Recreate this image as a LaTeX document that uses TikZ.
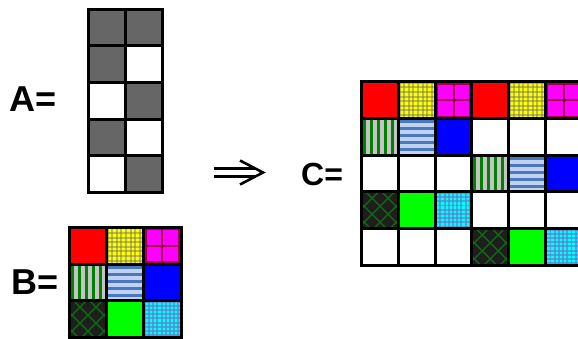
\documentclass[tikz,border=0pt]{standalone}
\usepackage{fontspec}
\setmainfont{Liberation Sans}
\definecolor{agray}{HTML}{666666}
\definecolor{chkgray}{HTML}{707070}
\definecolor{magline}{HTML}{A0004A}
\definecolor{stgreen}{HTML}{008000}
\definecolor{stgray}{HTML}{C4C4C4}
\definecolor{hlblue}{HTML}{C0D2EE}
\definecolor{hdblue}{HTML}{4A78C0}
\definecolor{dkbg}{HTML}{1E1E1E}
\definecolor{dkgreen}{HTML}{0E6A0E}
\definecolor{cyanchk}{HTML}{6478C8}
\definecolor{pred}{RGB}{255,0,0}
\definecolor{pgreen}{RGB}{0,255,0}
\definecolor{pblue}{RGB}{0,0,255}
\definecolor{pyellow}{RGB}{255,255,0}
\definecolor{pcyan}{RGB}{0,255,255}
\definecolor{pmagenta}{RGB}{255,0,255}
\newcommand\patR[4]{\fill[pred] (#1,#2) rectangle ++(#3,#4);}
\newcommand\patG[4]{\fill[pgreen] (#1,#2) rectangle ++(#3,#4);}
\newcommand\patB[4]{\fill[pblue] (#1,#2) rectangle ++(#3,#4);}
\newcommand\patW[4]{\fill[white] (#1,#2) rectangle ++(#3,#4);}
\newcommand\patK[4]{\fill[agray] (#1,#2) rectangle ++(#3,#4);}
% gingham: #5 background, #6 band colour, #7 period, #8 opacity
\newcommand\ging[8]{\fill[#5] (#1,#2) rectangle ++(#3,#4);
  \foreach \i in {0,...,10}{
    \fill[#6,opacity=#8] ({#1+\i*#7},#2) rectangle ++({#7/2.2},#4);
    \fill[#6,opacity=#8] (#1,{#2+\i*#7}) rectangle ++(#3,{#7/2.2});}}
\newcommand\patY[4]{\ging{#1}{#2}{#3}{#4}{pyellow}{chkgray}{4.6}{0.45}}
\newcommand\patC[4]{\ging{#1}{#2}{#3}{#4}{pcyan}{cyanchk}{4.2}{0.62}}
\newcommand\patM[4]{\fill[pmagenta] (#1,#2) rectangle ++(#3,#4);
  \draw[magline,line width=2] ({#1+#3/2},#2) -- ++(0,#4);
  \draw[magline,line width=2] (#1,{#2+#4/2}) -- ++(#3,0);
  \draw[magline,line width=5.5] (#1,#2) rectangle ++(#3,#4);}
\newcommand\patV[4]{\fill[stgray] (#1,#2) rectangle ++(#3,#4);
  \foreach \i in {0,...,6}{\fill[stgreen] ({#1+1.5+\i*6.9},#2) rectangle ++(3,#4);}}
\newcommand\patH[4]{\fill[hlblue] (#1,#2) rectangle ++(#3,#4);
  \foreach \i in {0,...,6}{\fill[hdblue] (#1,{#2+1.5+\i*7}) rectangle ++(#3,3);}}
\newcommand\patX[4]{\fill[dkbg] (#1,#2) rectangle ++(#3,#4);
  \foreach \i in {-3,...,3}{
    \draw[dkgreen,line width=1.4] ({#1+4+\i*16},#2) -- ++(#4,#4);
    \draw[dkgreen,line width=1.4] ({#1+#3-4-\i*16},#2) -- ++({-#4},#4);}}
\newcommand\mcell[5]{\begin{scope}\clip (#1,#2) rectangle ++(#3,#4);
  \csname pat#5\endcsname{#1}{#2}{#3}{#4}\end{scope}}
\newcommand\mgrid[6]{%
  \foreach \i in {0,...,#5}{\draw[gridline] ({#1+\i*#3},#2) -- ++(0,{#6*#4});}
  \foreach \j in {0,...,#6}{\draw[gridline] (#1,{#2+\j*#4}) -- ++({#5*#3},0);}}
\tikzset{
  gridline/.style={line width=3,black,line cap=rect},
  lbl/.style={inner sep=0,anchor=base west,font=\fontsize{36}{40}\selectfont\bfseries},
  arrowline/.style={line width=2.6,black}
}
\begin{document}
\begin{tikzpicture}[x=1pt,y=-1pt]
\useasboundingbox (0,0) rectangle (578,338);
% matrix A
\foreach \r/\lst in {0/{K,K},1/{K,W},2/{W,K},3/{K,W},4/{W,K}}{
  \foreach \t [count=\k from 0] in \lst {\mcell{88+\k*37.3}{9+\r*36.7}{37.3}{36.7}{\t}}}
\mgrid{88}{9}{37.3}{36.7}{2}{5}
% matrix B
\foreach \r/\lst in {0/{R,Y,M},1/{V,H,B},2/{X,G,C}}{
  \foreach \t [count=\k from 0] in \lst {\mcell{69.4+\k*37.2}{227.4+\r*36.6}{37.2}{36.6}{\t}}}
\mgrid{69.4}{227.4}{37.2}{36.6}{3}{3}
% matrix C
\foreach \r/\lst in {0/{R,Y,M,R,Y,M},1/{V,H,B,W,W,W},2/{W,W,W,V,H,B},3/{X,G,C,W,W,W},4/{W,W,W,X,G,C}}{
  \foreach \t [count=\k from 0] in \lst {\mcell{361.8+\k*36.7}{81.8+\r*36.7}{36.7}{36.7}{\t}}}
\mgrid{361.8}{81.8}{36.7}{36.7}{6}{5}
% labels
\node[lbl] (la) at (9.5,111) {A=};
\node[lbl] (lb) at (11,294) {B=};
\node[lbl,font=\fontsize{32}{36}\selectfont\bfseries] (lc) at (301,185.5) {C=};
% implication arrow
\coordinate (arr) at (239,172.5);
\draw[arrowline] ([xshift=-25pt,yshift=-4.2pt]arr) -- ++(41,0);
\draw[arrowline] ([xshift=-25pt,yshift=4.2pt]arr) -- ++(41,0);
\draw[arrowline,line join=miter] ([xshift=1pt,yshift=12pt]arr) -- ([xshift=24pt]arr) -- ([xshift=1pt,yshift=-12pt]arr);
\end{tikzpicture}
\end{document}
